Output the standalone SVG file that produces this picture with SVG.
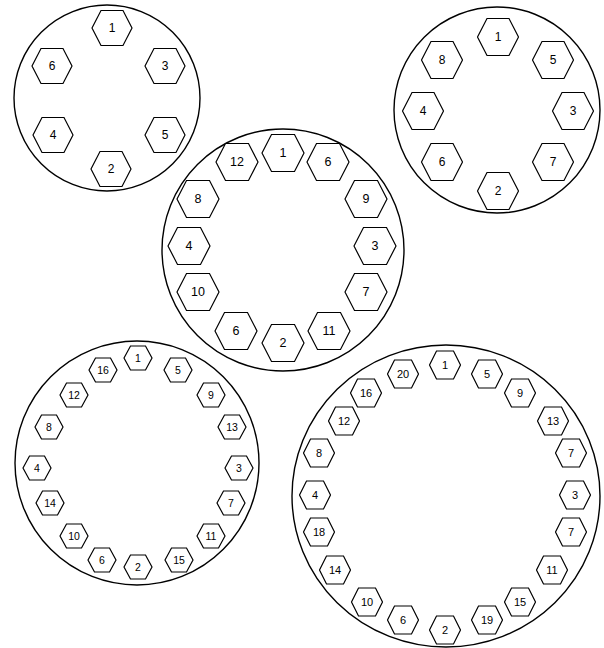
<svg xmlns="http://www.w3.org/2000/svg" xmlns:xlink="http://www.w3.org/1999/xlink" width="604" height="648" viewBox="0 0 604 648">
<style>
.ring{fill:#fff;stroke:#000;stroke-width:1.4}
.hex{fill:#fff;stroke:#000;stroke-width:1.2}
text{font-family:"Liberation Sans",Arial,sans-serif;fill:#000;text-anchor:middle;dominant-baseline:central}
.t1{font-size:12px}
.t2{font-size:12px}
.t3{font-size:12.5px}
.t4{font-size:10.5px}
.t5{font-size:11px}
</style>
<defs>
<polygon id="hA" class="hex" points="-20,0 -11,-17.5 11,-17.5 20,0 11,17.5 -11,17.5"/>
<polygon id="hB" class="hex" points="-20.5,0 -11,-18.5 11,-18.5 20.5,0 11,18.5 -11,18.5"/>
<polygon id="hC" class="hex" points="-21,0 -11.5,-18.5 11.5,-18.5 21,0 11.5,18.5 -11.5,18.5"/>
<polygon id="hD" class="hex" points="-14,0 -7.5,-12 7.5,-12 14,0 7.5,12 -7.5,12"/>
<polygon id="hE" class="hex" points="-15.5,0 -8.5,-14 8.5,-14 15.5,0 8.5,14 -8.5,14"/>
</defs>

<g id="wheel6">
<circle class="ring" cx="107" cy="98" r="93"/>
<g id="w6-1"><use href="#hA" x="112" y="28"/><text class="t1" x="112" y="28">1</text></g>
<g id="w6-6"><use href="#hA" x="52" y="66"/><text class="t1" x="52" y="66">6</text></g>
<g id="w6-3"><use href="#hA" x="165" y="66"/><text class="t1" x="165" y="66">3</text></g>
<g id="w6-4"><use href="#hA" x="53" y="135"/><text class="t1" x="53" y="135">4</text></g>
<g id="w6-5"><use href="#hA" x="165" y="135"/><text class="t1" x="165" y="135">5</text></g>
<g id="w6-2"><use href="#hA" x="111" y="169"/><text class="t1" x="111" y="169">2</text></g>
</g>

<g id="wheel8">
<circle class="ring" cx="497" cy="110" r="103"/>
<g id="w8-1"><use href="#hB" x="498" y="37"/><text class="t2" x="498" y="37">1</text></g>
<g id="w8-8"><use href="#hB" x="442" y="60"/><text class="t2" x="442" y="60">8</text></g>
<g id="w8-5"><use href="#hB" x="553" y="60"/><text class="t2" x="553" y="60">5</text></g>
<g id="w8-4"><use href="#hB" x="423" y="111"/><text class="t2" x="423" y="111">4</text></g>
<g id="w8-3"><use href="#hB" x="573" y="111"/><text class="t2" x="573" y="111">3</text></g>
<g id="w8-6"><use href="#hB" x="442" y="162"/><text class="t2" x="442" y="162">6</text></g>
<g id="w8-7"><use href="#hB" x="553" y="162"/><text class="t2" x="553" y="162">7</text></g>
<g id="w8-2"><use href="#hB" x="498" y="191"/><text class="t2" x="498" y="191">2</text></g>
</g>

<g id="wheel12">
<circle class="ring" cx="283" cy="250" r="121"/>
<g id="w12-1"><use href="#hC" x="283" y="153"/><text class="t3" x="283" y="153">1</text></g>
<g id="w12-12"><use href="#hC" x="237" y="162"/><text class="t3" x="237" y="162">12</text></g>
<g id="w12-6a"><use href="#hC" x="328" y="162"/><text class="t3" x="328" y="162">6</text></g>
<g id="w12-8"><use href="#hC" x="198" y="199"/><text class="t3" x="198" y="199">8</text></g>
<g id="w12-9"><use href="#hC" x="366" y="199"/><text class="t3" x="366" y="199">9</text></g>
<g id="w12-4"><use href="#hC" x="189" y="246"/><text class="t3" x="189" y="246">4</text></g>
<g id="w12-3"><use href="#hC" x="375" y="246"/><text class="t3" x="375" y="246">3</text></g>
<g id="w12-10"><use href="#hC" x="198" y="292"/><text class="t3" x="198" y="292">10</text></g>
<g id="w12-7"><use href="#hC" x="366" y="292"/><text class="t3" x="366" y="292">7</text></g>
<g id="w12-6b"><use href="#hC" x="236" y="331"/><text class="t3" x="236" y="331">6</text></g>
<g id="w12-11"><use href="#hC" x="329" y="331"/><text class="t3" x="329" y="331">11</text></g>
<g id="w12-2"><use href="#hC" x="283" y="343"/><text class="t3" x="283" y="343">2</text></g>
</g>

<g id="wheel16">
<circle class="ring" cx="137" cy="463" r="122"/>
<g id="w16-1"><use href="#hD" x="138" y="358"/><text class="t4" x="138" y="358">1</text></g>
<g id="w16-16"><use href="#hD" x="103" y="370"/><text class="t4" x="103" y="370">16</text></g>
<g id="w16-5"><use href="#hD" x="178" y="370"/><text class="t4" x="178" y="370">5</text></g>
<g id="w16-12"><use href="#hD" x="74" y="395"/><text class="t4" x="74" y="395">12</text></g>
<g id="w16-9"><use href="#hD" x="211" y="395"/><text class="t4" x="211" y="395">9</text></g>
<g id="w16-8"><use href="#hD" x="49" y="427"/><text class="t4" x="49" y="427">8</text></g>
<g id="w16-13"><use href="#hD" x="232" y="427"/><text class="t4" x="232" y="427">13</text></g>
<g id="w16-4"><use href="#hD" x="37" y="468"/><text class="t4" x="37" y="468">4</text></g>
<g id="w16-3"><use href="#hD" x="239" y="468"/><text class="t4" x="239" y="468">3</text></g>
<g id="w16-14"><use href="#hD" x="50" y="503"/><text class="t4" x="50" y="503">14</text></g>
<g id="w16-7"><use href="#hD" x="231" y="503"/><text class="t4" x="231" y="503">7</text></g>
<g id="w16-10"><use href="#hD" x="74" y="536"/><text class="t4" x="74" y="536">10</text></g>
<g id="w16-11"><use href="#hD" x="211" y="536"/><text class="t4" x="211" y="536">11</text></g>
<g id="w16-6"><use href="#hD" x="102" y="560"/><text class="t4" x="102" y="560">6</text></g>
<g id="w16-15"><use href="#hD" x="179" y="560"/><text class="t4" x="179" y="560">15</text></g>
<g id="w16-2"><use href="#hD" x="138" y="567"/><text class="t4" x="138" y="567">2</text></g>
</g>

<g id="wheel20">
<ellipse class="ring" cx="446" cy="496" rx="154" ry="151"/>
<g id="w20-1"><use href="#hE" x="445" y="365"/><text class="t5" x="445" y="365">1</text></g>
<g id="w20-20"><use href="#hE" x="403" y="374"/><text class="t5" x="403" y="374">20</text></g>
<g id="w20-5"><use href="#hE" x="487" y="374"/><text class="t5" x="487" y="374">5</text></g>
<g id="w20-16"><use href="#hE" x="366" y="393"/><text class="t5" x="366" y="393">16</text></g>
<g id="w20-9"><use href="#hE" x="520" y="393"/><text class="t5" x="520" y="393">9</text></g>
<g id="w20-12"><use href="#hE" x="344" y="421"/><text class="t5" x="344" y="421">12</text></g>
<g id="w20-13"><use href="#hE" x="553" y="421"/><text class="t5" x="553" y="421">13</text></g>
<g id="w20-8"><use href="#hE" x="319" y="453"/><text class="t5" x="319" y="453">8</text></g>
<g id="w20-7a"><use href="#hE" x="571" y="453"/><text class="t5" x="571" y="453">7</text></g>
<g id="w20-4"><use href="#hE" x="315" y="495"/><text class="t5" x="315" y="495">4</text></g>
<g id="w20-3"><use href="#hE" x="575" y="495"/><text class="t5" x="575" y="495">3</text></g>
<g id="w20-18"><use href="#hE" x="319" y="532"/><text class="t5" x="319" y="532">18</text></g>
<g id="w20-7b"><use href="#hE" x="571" y="532"/><text class="t5" x="571" y="532">7</text></g>
<g id="w20-14"><use href="#hE" x="335" y="570"/><text class="t5" x="335" y="570">14</text></g>
<g id="w20-11"><use href="#hE" x="552" y="570"/><text class="t5" x="552" y="570">11</text></g>
<g id="w20-10"><use href="#hE" x="367" y="602"/><text class="t5" x="367" y="602">10</text></g>
<g id="w20-15"><use href="#hE" x="520" y="602"/><text class="t5" x="520" y="602">15</text></g>
<g id="w20-6"><use href="#hE" x="403" y="620"/><text class="t5" x="403" y="620">6</text></g>
<g id="w20-19"><use href="#hE" x="487" y="620"/><text class="t5" x="487" y="620">19</text></g>
<g id="w20-2"><use href="#hE" x="445" y="630"/><text class="t5" x="445" y="630">2</text></g>
</g>
</svg>
